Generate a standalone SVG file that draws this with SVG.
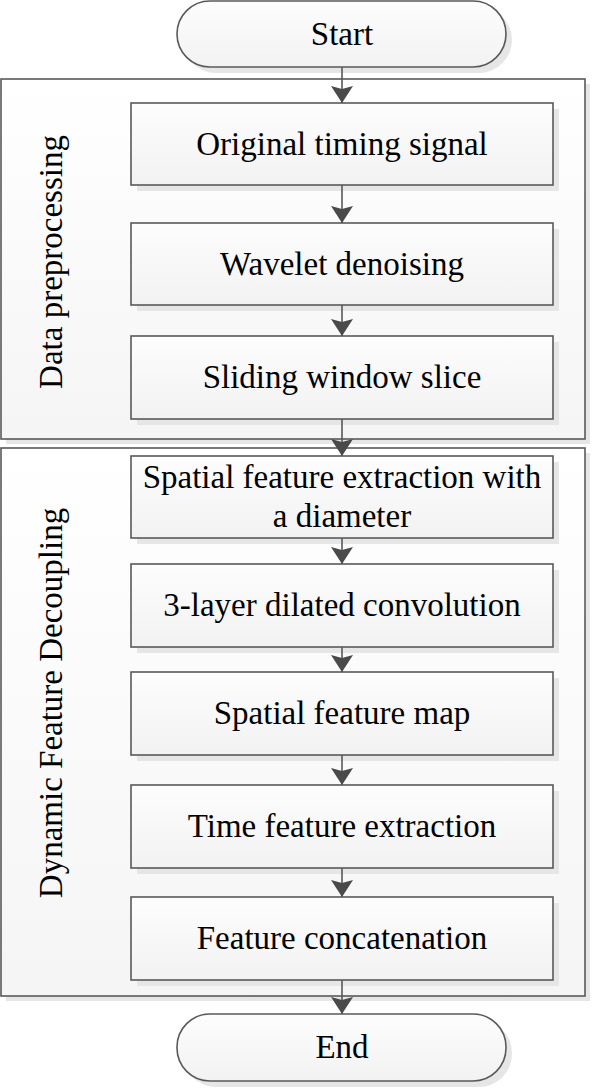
<svg xmlns="http://www.w3.org/2000/svg" width="592" height="1088" viewBox="0 0 592 1088">
<style>
.t{font-family:"Liberation Serif","Times New Roman",serif;font-size:33px;fill:#000;text-anchor:middle}
.box{fill:url(#gb);stroke:#595959;stroke-width:1.6}
.cont{fill:url(#gc);stroke:#595959;stroke-width:1.6}
.sh{fill:#e6e6e6}
.conn{stroke:#595959;stroke-width:1.6;fill:none;marker-end:url(#ah)}
</style>
<defs>
<linearGradient id="gb" x1="0" y1="0" x2="0" y2="1"><stop offset="0" stop-color="#fdfdfd"/><stop offset="1" stop-color="#f2f2f2"/></linearGradient>
<linearGradient id="gc" x1="0" y1="0" x2="0" y2="1"><stop offset="0" stop-color="#ffffff"/><stop offset="1" stop-color="#f5f5f5"/></linearGradient>
<marker id="ah" viewBox="0 0 17 22" refX="17" refY="11" markerWidth="17" markerHeight="22" markerUnits="userSpaceOnUse" orient="auto">
<path d="M0,0 L3,11 L0,22 L17,11 z" fill="#4a4a4a"/>
</marker>
</defs>
<g id="group-preprocessing">
<rect class="sh" x="6" y="84" width="584" height="360"/>
<rect class="cont" x="1" y="79" width="584" height="360"/>
<text class="t" transform="translate(62,262) rotate(-90)">Data preprocessing</text>
</g>
<g id="group-decoupling">
<rect class="sh" x="6" y="453" width="584" height="548"/>
<rect class="cont" x="1" y="448" width="584" height="548"/>
<text class="t" transform="translate(62,703) rotate(-90)">Dynamic Feature Decoupling</text>
</g>
<g id="start">
<rect class="sh" x="183" y="7" width="329" height="66" rx="33"/>
<rect class="box" x="177" y="1" width="329" height="66" rx="33"/>
<text class="t" x="342" y="45">Start</text>
</g>
<g id="original">
<rect class="sh" x="137" y="109" width="422" height="82"/>
<rect class="box" x="131" y="103" width="422" height="82"/>
<text class="t" x="342" y="155">Original timing signal</text>
</g>
<g id="wavelet">
<rect class="sh" x="137" y="229" width="422" height="82"/>
<rect class="box" x="131" y="223" width="422" height="82"/>
<text class="t" x="342" y="275">Wavelet denoising</text>
</g>
<g id="sliding">
<rect class="sh" x="137" y="342" width="422" height="83"/>
<rect class="box" x="131" y="336" width="422" height="83"/>
<text class="t" x="342" y="388">Sliding window slice</text>
</g>
<g id="spatial-extraction">
<rect class="sh" x="137" y="462" width="422" height="82"/>
<rect class="box" x="131" y="456" width="422" height="82"/>
<text class="t" x="342" y="488">Spatial feature extraction with</text>
<text class="t" x="342" y="527">a diameter</text>
</g>
<g id="dilated">
<rect class="sh" x="137" y="570" width="422" height="83"/>
<rect class="box" x="131" y="564" width="422" height="83"/>
<text class="t" x="342" y="616">3-layer dilated convolution</text>
</g>
<g id="spatial-map">
<rect class="sh" x="137" y="678" width="422" height="83"/>
<rect class="box" x="131" y="672" width="422" height="83"/>
<text class="t" x="342" y="724">Spatial feature map</text>
</g>
<g id="time-extraction">
<rect class="sh" x="137" y="791" width="422" height="83"/>
<rect class="box" x="131" y="785" width="422" height="83"/>
<text class="t" x="342" y="837">Time feature extraction</text>
</g>
<g id="concat">
<rect class="sh" x="137" y="903" width="422" height="83"/>
<rect class="box" x="131" y="897" width="422" height="83"/>
<text class="t" x="342" y="949">Feature concatenation</text>
</g>
<g id="end">
<rect class="sh" x="183" y="1020" width="329" height="67" rx="33"/>
<rect class="box" x="177" y="1014" width="329" height="67" rx="33"/>
<text class="t" x="342" y="1058">End</text>
</g>
<g id="connectors">
<path class="conn" d="M342,67 V103"/>
<path class="conn" d="M342,185 V223"/>
<path class="conn" d="M342,305 V336"/>
<path class="conn" d="M342,419 V456"/>
<path class="conn" d="M342,538 V564"/>
<path class="conn" d="M342,647 V672"/>
<path class="conn" d="M342,755 V785"/>
<path class="conn" d="M342,868 V897"/>
<path class="conn" d="M342,980 V1014"/>
</g>
</svg>
